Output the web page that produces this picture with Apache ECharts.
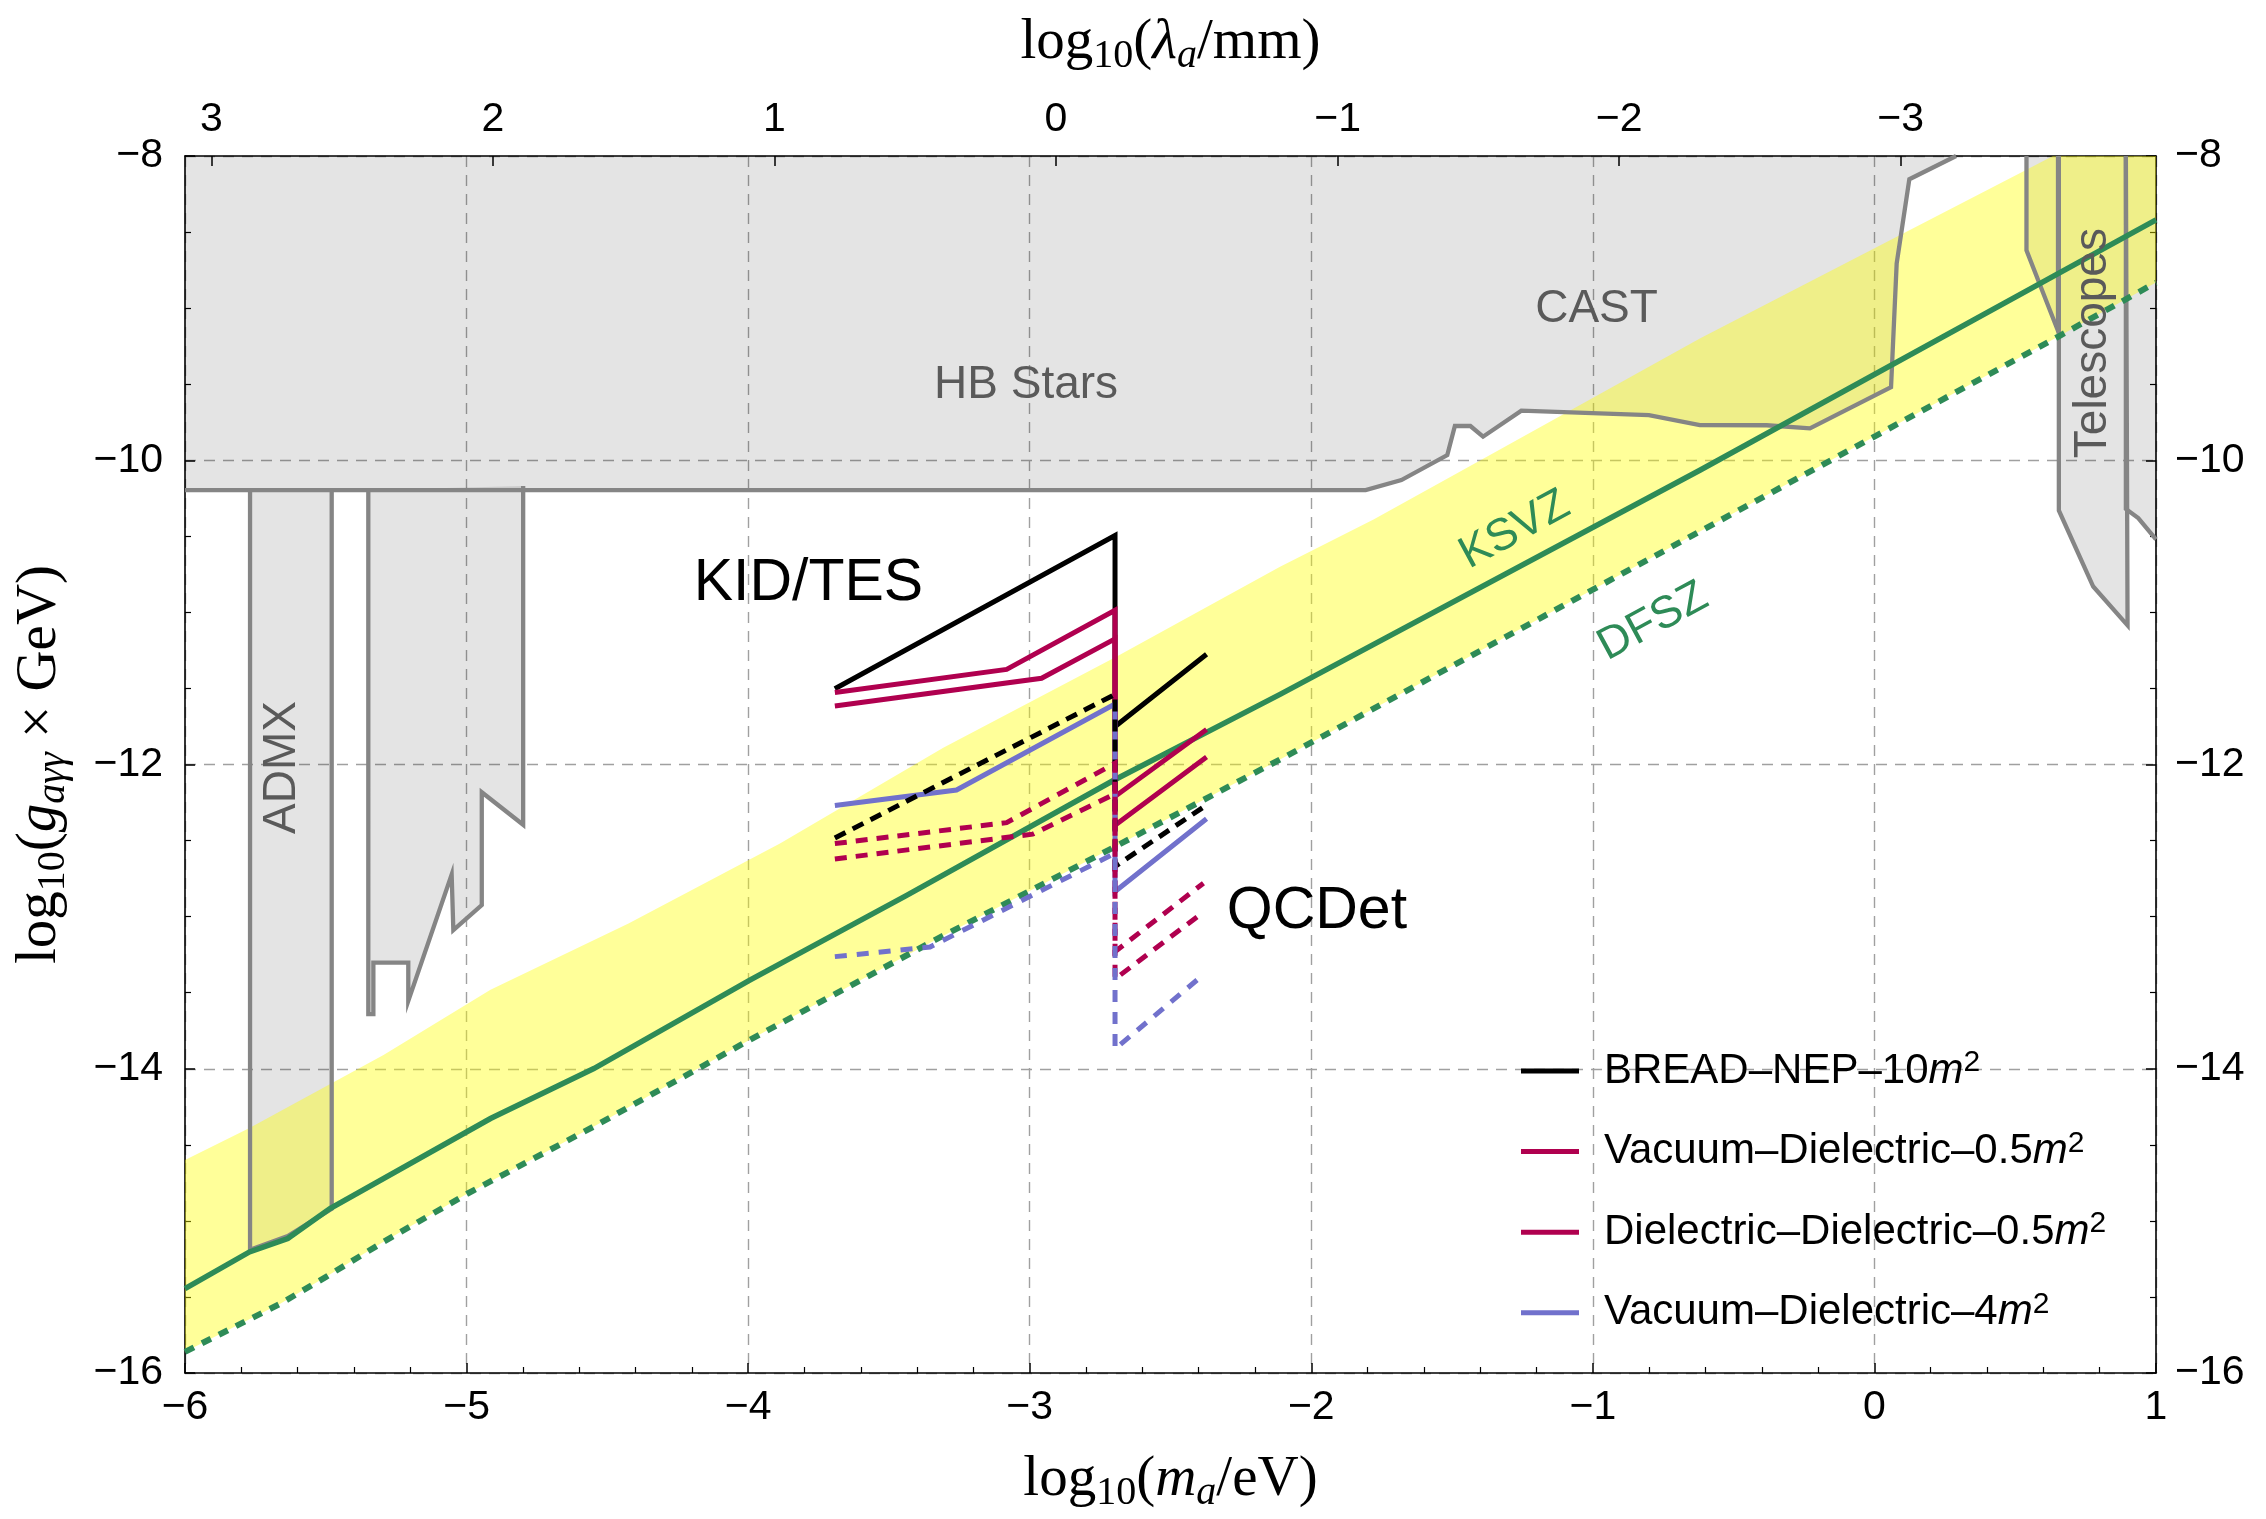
<!DOCTYPE html>
<html>
<head>
<meta charset="utf-8">
<script src="https://cdn.jsdelivr.net/npm/echarts@6/dist/echarts.min.js"></script>
<style>
  html, body { margin: 0; padding: 0; background: #fff; }
  #chart { width: 2266px; height: 1519px; }
</style>
</head>
<body>
<div id="chart"></div>
<script>
// axion-photon coupling vs mass, KID/TES + QCDet projections
var HC_EV_MM = 1.23984e-3;               // h*c in eV*mm, for the lambda axis
var LAMBDA_OFFSET = Math.log10(HC_EV_MM);

// excluded regions (log10 m/eV, log10 g*GeV)
var hbCast = [[-6, -8], [-6, -10.196], [-1.807, -10.196], [-1.680, -10.13], [-1.517, -9.966], [-1.490, -9.775],
  [-1.435, -9.775], [-1.390, -9.845], [-1.254, -9.674], [-0.801, -9.703], [-0.620, -9.769], [-0.383, -9.77],
  [-0.229, -9.79], [0.059, -9.52], [0.079, -8.707], [0.124, -8.153], [0.290, -8.0]];
var admx1 = [[-5.769, -10.196], [-5.769, -15.19], [-5.635, -15.10], [-5.479, -14.92], [-5.479, -10.196]];
var admx2 = [[-5.349, -10.196], [-5.349, -13.641], [-5.331, -13.641], [-5.331, -13.302], [-5.207, -13.302],
  [-5.207, -13.554], [-5.053, -12.723], [-5.047, -13.088], [-4.946, -12.924], [-4.946, -12.182],
  [-4.799, -12.396], [-4.799, -10.17]];
var telA = [[0.540, -8], [0.540, -8.62], [0.652, -9.15], [0.652, -8]];
var telB = [[0.655, -8], [0.655, -10.33], [0.777, -10.83], [0.899, -11.085], [0.893, -8]];
var telC = [[0.893, -8], [0.893, -10.32], [0.937, -10.38], [1.0, -10.52], [1.0, -8]];

// QCD axion band and model lines
var bandUpper = [[-6, -14.60], [-5.771, -14.39], [-5.295, -13.91], [-4.915, -13.48], [-4.425, -13.045],
  [-3.887, -12.52], [-3.307, -11.89], [-2.691, -11.29], [-2.111, -10.70], [-1.779, -10.39], [-1.399, -10.0],
  [-0.620, -9.20], [0.540, -8.09], [0.634, -8.0], [1.0, -8.0]];
var ksvz = [[-6, -15.445], [-5.771, -15.204], [-5.635, -15.116], [-5.485, -14.919], [-4.915, -14.327],
  [-4.548, -13.999], [-3.994, -13.418], [-3.437, -12.86], [-2.703, -12.105], [-2.111, -11.539],
  [-0.620, -10.066], [1.0, -8.42]];
var dfsz = [[-6, -15.861], [-5.662, -15.545], [-5.499, -15.368], [-5.295, -15.138], [-4.996, -14.82],
  [-4.548, -14.38], [-3.994, -13.81], [-3.319, -13.137], [-2.703, -12.546], [-2.111, -11.967],
  [-0.620, -10.468], [0.655, -9.185], [1.0, -8.832]];

// projections: KID/TES segment, drop, QCDet segment
var breadSolid = [[-3.692, -11.502], [-2.697, -10.495], [-2.697, -11.75], [-2.372, -11.275]];
var breadDashed = [[-3.692, -12.483], [-2.697, -11.539], [-2.697, -12.67], [-2.383, -12.28]];
var vd05Solid = [[-3.692, -11.527], [-3.082, -11.375], [-2.697, -10.986], [-2.697, -12.21], [-2.372, -11.77]];
var dd05Solid = [[-3.692, -11.615], [-2.958, -11.433], [-2.697, -11.174], [-2.697, -12.40], [-2.372, -11.95]];
var vd4Solid = [[-3.692, -12.269], [-3.26, -12.168], [-2.697, -11.602], [-2.697, -12.835], [-2.372, -12.357]];
var vd05Dashed = [[-3.692, -12.52], [-3.082, -12.382], [-2.697, -11.992], [-2.697, -13.23], [-2.383, -12.78]];
var dd05Dashed = [[-3.692, -12.621], [-2.99, -12.458], [-2.697, -12.193], [-2.697, -13.41], [-2.383, -12.97]];
var vd4Dashed = [[-3.692, -13.263], [-3.354, -13.2], [-2.697, -12.583], [-2.697, -13.87], [-2.395, -13.40]];

var legendNames = ['BREAD–NEP–10m²', 'Vacuum–Dielectric–0.5m²', 'Dielectric–Dielectric–0.5m²', 'Vacuum–Dielectric–4m²'];

var regionLabels = [['HB Stars', -3.013, -9.51], ['CAST', -0.987, -9.006]];
var verticalLabels = [['ADMX', -5.654, -12.02], ['Telescopes', 0.777, -9.23]];
var bigLabels = [['KID/TES', -3.786, -10.81], ['QCDet', -1.98, -12.97]];
var modelLabels = [['KSVZ', -1.277, -10.459], ['DFSZ', -0.786, -11.062]];

var BLACK = '#000000', PINK = '#b0004f', BLUE = '#7171cc', GREEN = '#2e8b57', GRAY = '#858585';
var SANS = '"Liberation Sans", Arial, sans-serif';
var SERIF = '"Liberation Serif", "Times New Roman", serif';

function minus(v) { return v < 0 ? '\u2212' + Math.abs(v) : String(v); }

function fillSeries(pts, color, z) {
  return {
    type: 'custom', silent: true, z: z, data: [[pts[0][0], pts[0][1]]],
    renderItem: function (params, api) {
      return { type: 'polygon', shape: { points: pts.map(function (p) { return api.coord(p); }) },
               style: { fill: color, stroke: null } };
    }
  };
}
function lineSeries(name, pts, color, width, dash, z) {
  return {
    type: 'line', name: name, data: pts, showSymbol: false, symbol: 'none', silent: true, z: z,
    itemStyle: { color: color },
    lineStyle: { color: color, width: width, type: dash || 'solid', cap: 'butt', join: 'miter' }
  };
}
function textSeries(items, font, color, rot, z) {
  return {
    type: 'custom', silent: true, z: z,
    data: items.map(function (d) { return [d[1], d[2], d[0]]; }),
    renderItem: function (params, api) {
      var p = api.coord([api.value(0), api.value(1)]);
      return { type: 'text', x: p[0], y: p[1], rotation: rot * Math.PI / 180,
               style: { text: items[params.dataIndex][0], font: font, fill: color,
                        align: 'center', verticalAlign: 'middle' } };
    }
  };
}

var series = [];
var greyFill = 'rgba(0,0,0,0.105)';
[hbCast, admx1, admx2, telA, telB, telC].forEach(function (r) { series.push(fillSeries(r, greyFill, 1)); });
series.push(fillSeries(bandUpper.concat(dfsz.slice().reverse()), 'rgba(255,255,0,0.4)', 2));
[hbCast.slice(1), admx1, admx2, telA, telB, telC.slice(0, 4)].forEach(function (r) {
  series.push(lineSeries('', r, GRAY, 4.3, 'solid', 3));
});
series.push(lineSeries('KSVZ', ksvz, GREEN, 5.5, 'solid', 4));
series.push(lineSeries('DFSZ', dfsz, GREEN, 6, [10, 9], 4));

series.push(lineSeries(legendNames[0], breadSolid, BLACK, 5, 'solid', 5));
series.push(lineSeries(legendNames[1], vd05Solid, PINK, 5, 'solid', 5));
series.push(lineSeries(legendNames[2], dd05Solid, PINK, 5, 'solid', 5));
series.push(lineSeries(legendNames[3], vd4Solid, BLUE, 5, 'solid', 5));
series.push(lineSeries('bread dashed', breadDashed, BLACK, 5, [12, 8], 5));
series.push(lineSeries('vd05 dashed', vd05Dashed, PINK, 5, [12, 9], 5));
series.push(lineSeries('dd05 dashed', dd05Dashed, PINK, 5, [12, 9], 5));
series.push(lineSeries('vd4 dashed', vd4Dashed, BLUE, 5, [12, 10], 5));

series.push(textSeries(regionLabels, '46px ' + SANS, '#5a5a5a', 0, 6));
series.push(textSeries(verticalLabels, '46px ' + SANS, '#5a5a5a', 90, 6));
series.push(textSeries(bigLabels, '59px ' + SANS, BLACK, 0, 6));
series.push(textSeries(modelLabels, '45px ' + SANS, GREEN, 28.4, 6));

var nameRich = {
  r: { fontFamily: SERIF, fontSize: 57, lineHeight: 66, color: BLACK },
  i: { fontFamily: SERIF, fontSize: 57, lineHeight: 66, fontStyle: 'italic', color: BLACK },
  s: { fontFamily: SERIF, fontSize: 40, lineHeight: 32, verticalAlign: 'bottom', color: BLACK },
  si: { fontFamily: SERIF, fontSize: 40, lineHeight: 32, verticalAlign: 'bottom', fontStyle: 'italic', color: BLACK }
};
var frameLine = { show: true, onZero: false, lineStyle: { color: BLACK, width: 1.6 } };
var tickLabel = { fontFamily: SANS, fontSize: 41, color: BLACK };
var gridDash = { show: true, lineStyle: { color: '#a0a0a0', width: 1.4, type: [11, 8] } };

var chart = echarts.init(document.getElementById('chart'), null, { renderer: 'canvas' });
chart.setOption({
  animation: false,
  backgroundColor: '#ffffff',
  grid: { left: 185, right: 110, top: 156, bottom: 146 },
  legend: {
    data: legendNames, orient: 'vertical', left: 1516, top: 1043, itemGap: 36.6,
    icon: 'rect', itemWidth: 58, itemHeight: 5, selectedMode: false,
    formatter: function (n) { return '{t|' + n.replace('m²', '') + '}{m|m}{p|2}'; },
    textStyle: {
      padding: [0, 0, 0, 20],
      rich: {
        t: { fontFamily: SANS, fontSize: 42, lineHeight: 46, color: BLACK },
        m: { fontFamily: SANS, fontSize: 42, lineHeight: 46, fontStyle: 'italic', color: BLACK },
        p: { fontFamily: SANS, fontSize: 30, lineHeight: 30, verticalAlign: 'top', color: BLACK }
      }
    }
  },
  xAxis: [{
    type: 'value', position: 'bottom', min: -6, max: 1, interval: 1,
    name: '{r|log}{s|10}{r|(}{i|m}{si|a}{r|/eV)}', nameLocation: 'middle', nameGap: 74,
    nameTextStyle: { rich: nameRich },
    axisLine: frameLine,
    axisTick: { show: true, inside: true, length: 10, lineStyle: { color: BLACK, width: 1.5 } },
    minorTick: { show: true, splitNumber: 5, length: 6, lineStyle: { color: BLACK, width: 1.2 } },
    axisLabel: Object.assign({ margin: 14, formatter: minus }, tickLabel),
    splitLine: gridDash
  }, {
    type: 'value', position: 'top', inverse: true, splitNumber: 7,
    min: LAMBDA_OFFSET - 1, max: LAMBDA_OFFSET + 6,
    name: '{r|log}{s|10}{r|(}{i|λ}{si|a}{r|/mm)}', nameLocation: 'middle', nameGap: 80,
    nameTextStyle: { rich: nameRich },
    axisLine: frameLine,
    axisTick: { show: true, inside: true, length: 10, lineStyle: { color: BLACK, width: 1.5 } },
    axisLabel: Object.assign({ margin: 16, showMinLabel: false, showMaxLabel: false, formatter: function (v) {
      var r = Math.round(v);
      return Math.abs(v - r) < 1e-6 ? minus(r) : '';
    } }, tickLabel),
    splitLine: { show: false }
  }],
  yAxis: [{
    type: 'value', position: 'left', min: -16, max: -8, interval: 2,
    name: '{r|log}{s|10}{r|(}{i|g}{si|aγγ}{r| × GeV)}', nameLocation: 'middle', nameGap: 112, nameRotate: 90,
    nameTextStyle: { rich: nameRich },
    axisLine: frameLine,
    axisTick: { show: true, inside: true, length: 10, lineStyle: { color: BLACK, width: 1.5 } },
    minorTick: { show: true, splitNumber: 4, length: 6, lineStyle: { color: BLACK, width: 1.2 } },
    axisLabel: Object.assign({ margin: 22, formatter: minus }, tickLabel),
    splitLine: gridDash
  }, {
    type: 'value', position: 'right', min: -16, max: -8, interval: 2,
    axisLine: frameLine,
    axisTick: { show: true, inside: true, length: 10, lineStyle: { color: BLACK, width: 1.5 } },
    minorTick: { show: true, splitNumber: 4, length: 6, lineStyle: { color: BLACK, width: 1.2 } },
    axisLabel: Object.assign({ margin: 19, formatter: minus }, tickLabel),
    splitLine: { show: false }
  }],
  series: series
});
</script>
</body>
</html>
